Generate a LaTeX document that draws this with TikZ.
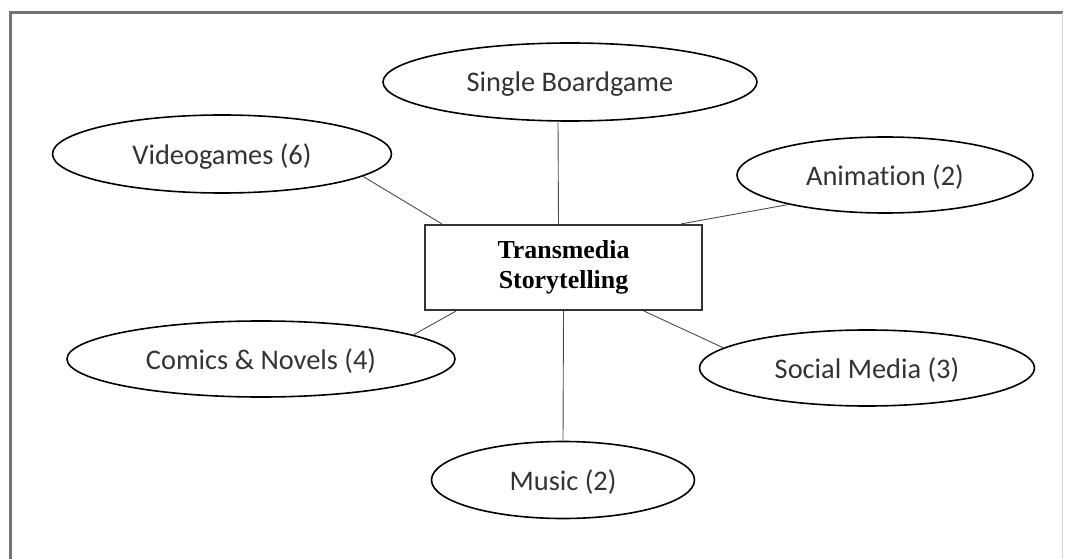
\documentclass[tikz,border=0pt]{standalone}
\usepackage{fontspec}
\setmainfont{Carlito}[Ligatures=CommonOff]
\newfontfamily\titlefont{Liberation Serif}
\usetikzlibrary{shapes.geometric,calc}
\tikzset{
  medium/.style={ellipse, draw=black, line width=1.6bp, inner sep=0pt,
    text=black!80, text depth=0pt, font=\fontsize{28.5}{33}\selectfont},
  hub/.style={rectangle, draw=black!80, line width=2.2bp, inner sep=0pt,
    minimum width=277bp, minimum height=85bp, align=center,
    font=\titlefont\bfseries\fontsize{26}{29.5}\selectfont},
  link/.style={draw=black!70, line width=0.9bp},
  frame/.style={draw=black!55, line width=3bp},
}
\begin{document}
\begin{tikzpicture}[x=1bp,y=-1bp]
  \useasboundingbox (0,0) rectangle (1066,559);
  % outer frame (top and left edges visible, right edge faint)
  \draw[frame] (10,590) -- (10,13) -- (1063,13);
  \draw[draw=black!15, line width=1bp] (1062,13) -- (1062,590);

  % central hub
  \node[hub] (ts) at (563.5,267.5) {Transmedia\\Storytelling};

  % surrounding media
  \node[medium, minimum width=374bp, minimum height=78bp] (sb) at (570,82) {Single Boardgame};
  \node[medium, minimum width=339bp, minimum height=78bp] (vg) at (222,154) {Videogames (6)};
  \node[medium, minimum width=296bp, minimum height=76bp] (an) at (885,175) {Animation (2)};
  \node[medium, minimum width=388bp, minimum height=76bp] (cn) at (261,359) {Comics \& Novels (4)};
  \node[medium, minimum width=335bp, minimum height=76bp] (sm) at (867,368) {Social Media (3)};
  \node[medium, minimum width=263bp, minimum height=77bp] (mu) at (563,480) {Music (2)};

  % connectors
  \draw[link] ([xshift=-12bp]sb.south) -- ([xshift=-5bp]ts.north);
  \draw[link] (vg.-9) -- ([xshift=18bp]ts.north west);
  \draw[link] (an.197) -- ([xshift=-22bp]ts.north east);
  \draw[link] (cn.9) -- ([xshift=32bp]ts.south west);
  \draw[link] ([xshift=-59bp]ts.south east) -- (sm.172);
  \draw[link] (ts.south) -- (mu.north);
\end{tikzpicture}
\end{document}
